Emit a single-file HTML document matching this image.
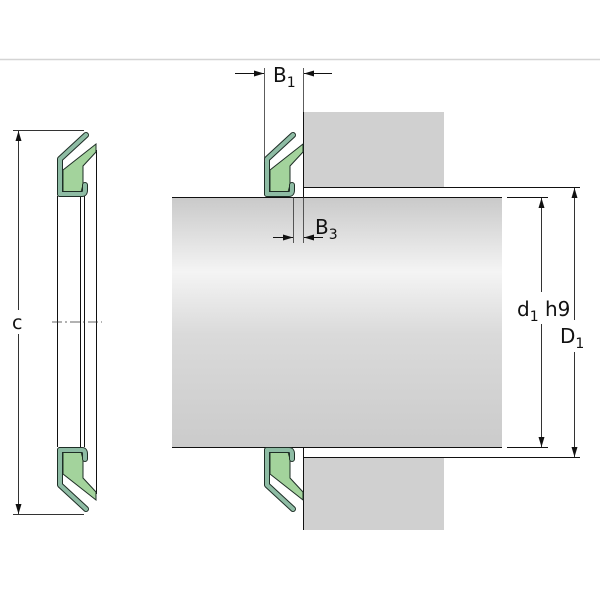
<!DOCTYPE html>
<html><head><meta charset="utf-8"><style>html,body{margin:0;padding:0;background:#fff}svg{display:block}text{font-family:"DejaVu Sans","Liberation Sans",sans-serif;fill:#111}</style></head>
<body>
<svg width="600" height="600" viewBox="0 0 600 600" xmlns="http://www.w3.org/2000/svg">
<defs>
<linearGradient id="sh" x1="0" y1="0" x2="0" y2="1">
<stop offset="0" stop-color="#c9c9c9"/><stop offset="0.3" stop-color="#f4f4f4"/><stop offset="0.55" stop-color="#dadada"/><stop offset="1" stop-color="#cbcbcb"/>
</linearGradient>
<marker id="ar" viewBox="0 0 10 6" refX="10" refY="3" markerWidth="10" markerHeight="6" orient="auto" markerUnits="userSpaceOnUse"><path d="M0,0 L10,3 L0,6z" fill="#111"/></marker>
<g id="seal">
<polygon points="6,-5 6,-27 39,-53 39,-45 26,-31 26,-12 24,-5" fill="#a3d39c" stroke="#1e2e26" stroke-width="1"/>
<path d="M3,-3 V-38 L29,-62" fill="none" stroke="#1e2e26" stroke-width="6" stroke-linejoin="round" stroke-linecap="round"/>
<path d="M3,-3 H25 Q28,-3 28,-7 V-12" fill="none" stroke="#1e2e26" stroke-width="6" stroke-linejoin="round" stroke-linecap="round"/>
<path d="M3,-3 V-38 L29,-62" fill="none" stroke="#8ebca4" stroke-width="4" stroke-linejoin="round" stroke-linecap="round"/>
<path d="M3,-3 H25 Q28,-3 28,-7 V-12" fill="none" stroke="#8ebca4" stroke-width="4" stroke-linejoin="round" stroke-linecap="round"/>
</g>
</defs>
<line x1="0" y1="59.5" x2="600" y2="59.5" stroke="#d4d4d4" stroke-width="1.5"/>

<g stroke="#111" stroke-width="1">
<line x1="57.5" y1="196" x2="57.5" y2="447"/>
<line x1="80.5" y1="196" x2="80.5" y2="447"/>
<line x1="84.5" y1="196" x2="84.5" y2="447"/>
<line x1="96.5" y1="150" x2="96.5" y2="494"/>
</g>
<use href="#seal" transform="translate(57,197)"/>
<use href="#seal" transform="translate(57,447) scale(1,-1)"/>
<line x1="52" y1="322" x2="102" y2="322" stroke="#333" stroke-width="0.8" stroke-dasharray="10,3,2,3"/>
<line x1="13" y1="130.5" x2="84" y2="130.5" stroke="#333"/>
<line x1="13" y1="514.5" x2="84" y2="514.5" stroke="#333"/>
<line x1="18.5" y1="310" x2="18.5" y2="131" stroke="#333" marker-end="url(#ar)"/>
<line x1="18.5" y1="334" x2="18.5" y2="514" stroke="#333" marker-end="url(#ar)"/>
<text x="12" y="329" font-size="19">c</text>

<rect x="303" y="112" width="141" height="75" fill="#d0d0d0"/>
<rect x="303" y="457" width="141" height="73" fill="#d0d0d0"/>
<rect x="172" y="197" width="330" height="250" fill="url(#sh)"/>
<line x1="172" y1="197.5" x2="502" y2="197.5" stroke="#111"/>
<line x1="172" y1="447.5" x2="502" y2="447.5" stroke="#111"/>
<line x1="303.5" y1="112" x2="303.5" y2="197" stroke="#111"/>
<line x1="303.5" y1="447" x2="303.5" y2="530" stroke="#111"/>
<line x1="303" y1="187.5" x2="580" y2="187.5" stroke="#111"/>
<line x1="303" y1="457.5" x2="580" y2="457.5" stroke="#111"/>
<line x1="507" y1="197.5" x2="548" y2="197.5" stroke="#111"/>
<line x1="507" y1="447.5" x2="548" y2="447.5" stroke="#111"/>

<use href="#seal" transform="translate(264,197)"/>
<use href="#seal" transform="translate(264,447) scale(1,-1)"/>

<line x1="264.5" y1="68" x2="264.5" y2="162" stroke="#333" stroke-width="0.8"/>
<line x1="303.5" y1="68" x2="303.5" y2="112" stroke="#333" stroke-width="0.8"/>
<line x1="235" y1="73.5" x2="264" y2="73.5" stroke="#111" marker-end="url(#ar)"/>
<line x1="332" y1="73.5" x2="304" y2="73.5" stroke="#111" marker-end="url(#ar)"/>
<text x="273" y="82" font-size="20">B<tspan font-size="14" dy="5">1</tspan></text>
<line x1="293.5" y1="197" x2="293.5" y2="243" stroke="#333" stroke-width="0.8"/>
<line x1="303.5" y1="197" x2="303.5" y2="243" stroke="#333" stroke-width="0.8"/>
<line x1="273" y1="237.5" x2="293" y2="237.5" stroke="#111" marker-end="url(#ar)"/>
<line x1="323" y1="237.5" x2="304" y2="237.5" stroke="#111" marker-end="url(#ar)"/>
<text x="315" y="234" font-size="20">B<tspan font-size="14" dy="5">3</tspan></text>

<line x1="541.5" y1="292" x2="541.5" y2="198" stroke="#333" marker-end="url(#ar)"/>
<line x1="541.5" y1="324" x2="541.5" y2="447" stroke="#333" marker-end="url(#ar)"/>
<text x="517" y="316" font-size="20">d<tspan font-size="14" dy="5">1</tspan><tspan dy="-5"> h9</tspan></text>
<line x1="574.5" y1="320" x2="574.5" y2="188" stroke="#333" marker-end="url(#ar)"/>
<line x1="574.5" y1="352" x2="574.5" y2="457" stroke="#333" marker-end="url(#ar)"/>
<text x="560" y="343" font-size="20">D<tspan font-size="14" dy="5">1</tspan></text>
</svg>
</body></html>
